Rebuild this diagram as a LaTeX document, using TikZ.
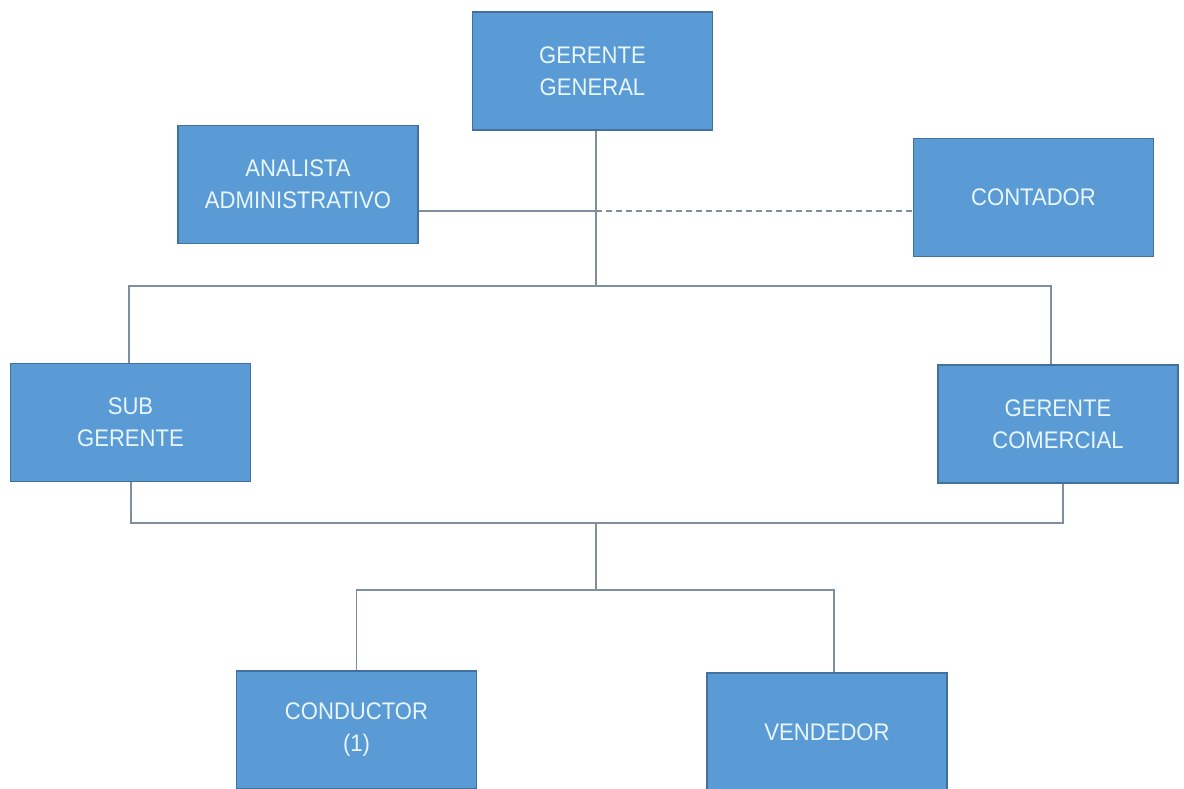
\documentclass[tikz,border=0pt]{standalone}
\usepackage{fontspec}
\setmainfont[FakeStretch=0.92]{Liberation Sans}
\definecolor{boxfill}{HTML}{5B9BD5}
\definecolor{boxedge}{HTML}{41719C}
\definecolor{boxtext}{HTML}{E8F6FF}
\definecolor{wire}{HTML}{7F8FA0}
\begin{document}
\begin{tikzpicture}[x=1pt,y=-1pt,
  unit/.style={draw=boxedge,fill=boxfill,line width=1.2pt,minimum width=240pt,minimum height=118pt,
    inner sep=0pt,align=center,text=boxtext,font=\fontsize{24}{32}\selectfont},
  wire/.style={draw=wire,line width=1.6pt},
  dashwire/.style={draw=wire,line width=1.6pt,dash pattern=on 6pt off 4pt}]
\useasboundingbox (0,0) rectangle (1184,788);
\fill[white] (0,0) rectangle (1184,788);

% boxes
\node[unit] (gg)   at (592.5,71)   {GERENTE\\GENERAL};
\node[unit] (an)   at (298,184.5)  {ANALISTA\\ADMINISTRATIVO};
\node[unit] (co)   at (1033.5,197.5) {CONTADOR};
\node[unit] (sub)  at (130.5,422.5) {SUB\\GERENTE};
\node[unit] (gc)   at (1058,424)   {GERENTE\\COMERCIAL};
\node[unit] (cond) at (356.5,730)  {CONDUCTOR\\(1)};
\node[unit] (ven)  at (827,732)    {VENDEDOR};

% junction points
\coordinate (top)  at (596,286);
\coordinate (mid)  at (596,211);
\coordinate (low)  at (596,523);
\coordinate (base) at (596,590);

% general manager to the first level
\draw[wire] (gg.south -| top) -- (top);
\draw[wire] (sub.north -| 129,0) -- (129,286) -- (1051,286) -- (gc.north -| 1051,0);

% staff positions
\draw[wire] (an.east |- mid) -- (mid);
\draw[dashwire] (mid) -- (co.west |- mid);

% first level to the operating staff
\draw[wire] (sub.south -| 131,0) -- (131,523) -- (1063,523) -- (gc.south -| 1063,0);
\draw[wire] (low) -- (base);
\draw[wire] (cond.north) -- (cond.north |- base) -- (834,590) -- (ven.north -| 834,0);
\end{tikzpicture}
\end{document}
